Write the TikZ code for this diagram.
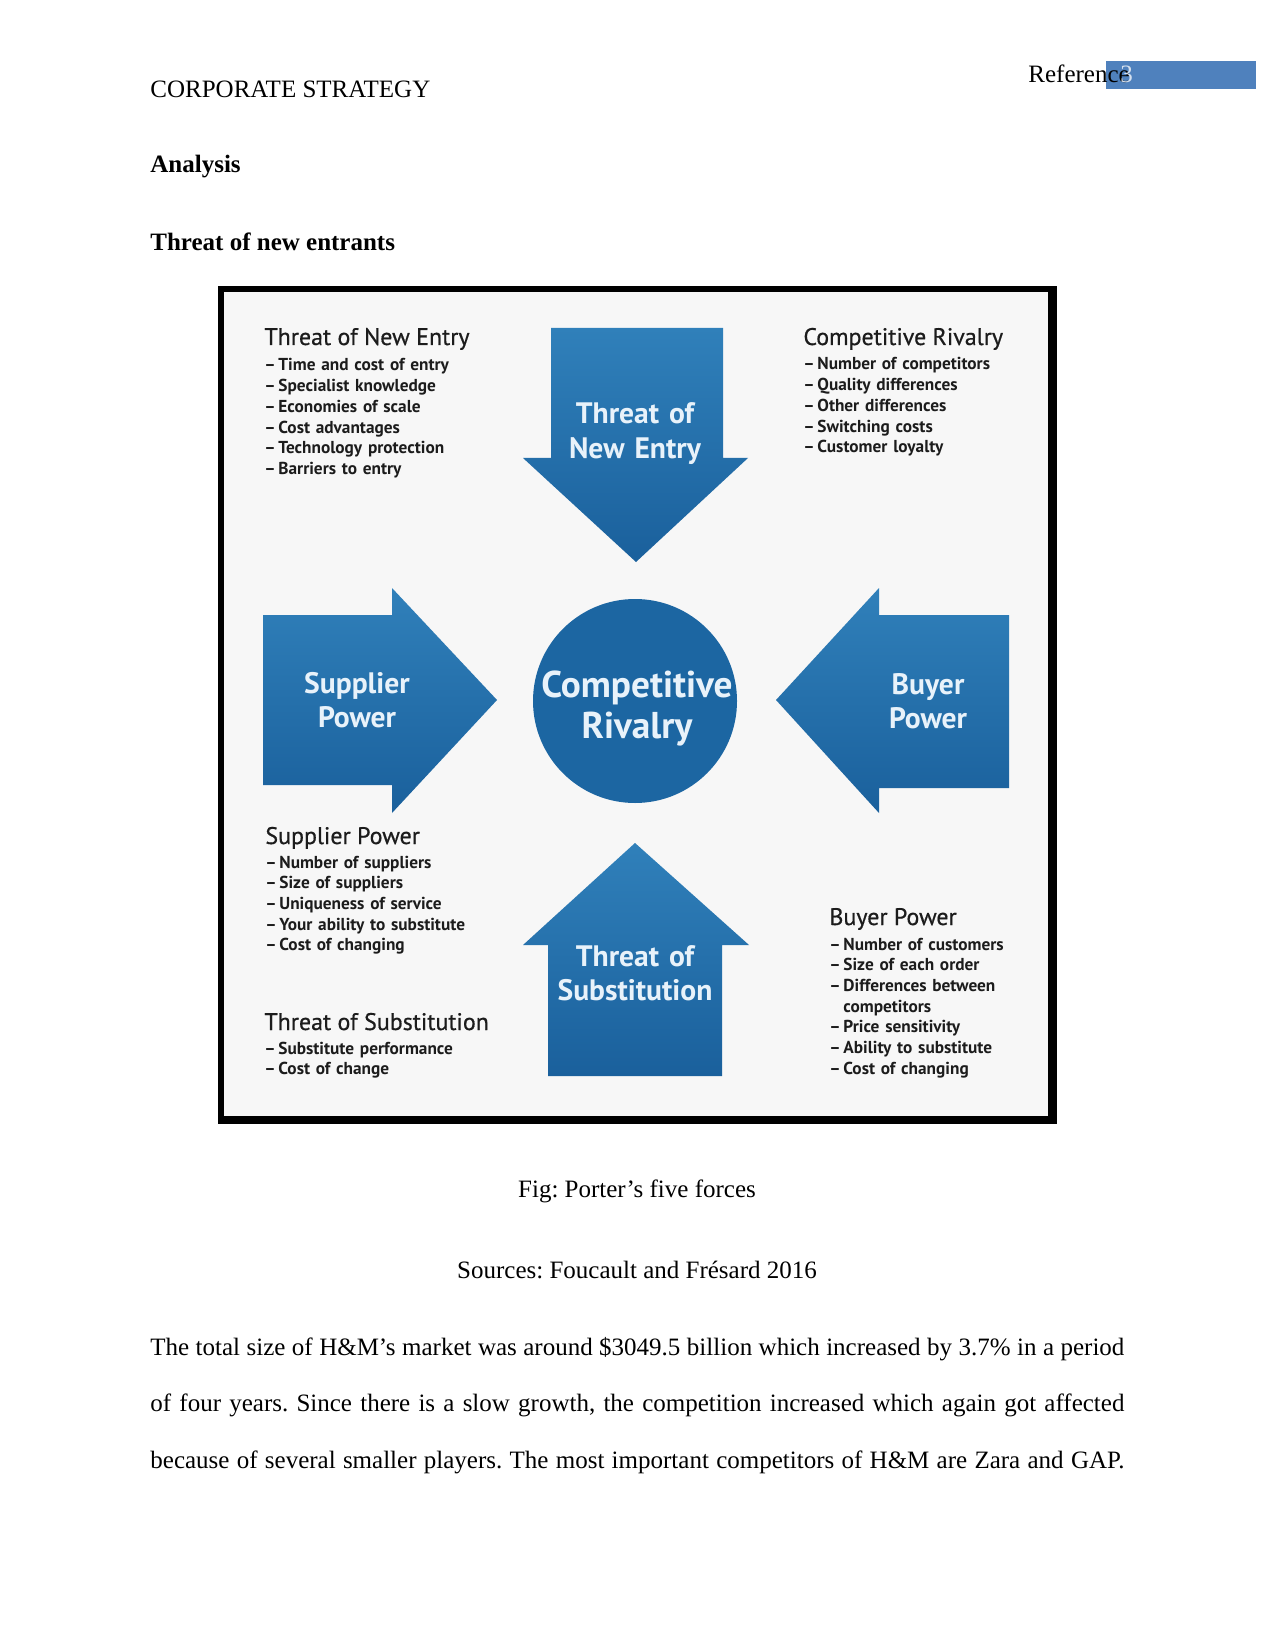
\documentclass[tikz,border=0pt]{standalone}
\usepackage{fontspec}
\setmainfont{Liberation Serif}
\newfontfamily\forcefont{PT Sans}
\newfontfamily\forcehead[FakeBold=0.6]{PT Sans}
\usepackage{xcolor}
\usetikzlibrary{positioning}
\frenchspacing

\definecolor{forcelight}{RGB}{48,128,186}
\definecolor{forcedark}{RGB}{26,96,156}
\definecolor{rivalblue}{RGB}{28,102,162}
\definecolor{forcetext}{RGB}{232,242,250}
\definecolor{listtext}{RGB}{28,28,28}
\definecolor{pagebox}{RGB}{79,129,189}
\newcommand{\dashitem}{\textendash\hspace{0.15em}}

\begin{document}
\begin{tikzpicture}[
  x=0.48pt, y=-0.48pt,
  body/.style={inner sep=0pt, anchor=base west, font=\fontsize{12}{14}\selectfont},
  bodyc/.style={body, anchor=base},
  force/.style={top color=forcelight, bottom color=forcedark},
  forcelbl/.style={inner sep=0pt, anchor=base, text width=140pt, align=center, text=forcetext,
    font=\forcefont\bfseries\fontsize{14.2}{16.5}\selectfont},
  head/.style={inner sep=0pt, anchor=base west, text=listtext, font=\forcehead\fontsize{11.5}{13}\selectfont},
  lst/.style={inner sep=0pt, anchor=base west, text width=130pt, align=left, text=listtext,
    font=\forcefont\bfseries\fontsize{8.3}{9.95}\selectfont}
]
\useasboundingbox (0,0) rectangle (1275,1650);

% ── Page header ──────────────────────────────────────────────
\fill[pagebox] (1106,61) rectangle (1256,89);
\node[body] (runhead) at (150,98) {CORPORATE STRATEGY};
\node[body] (refword) at (1028,83) {Reference};
\node[body, text=pagebox!25!white] (pageno) at (1120,83) {3};
\node[body, font=\bfseries\fontsize{12}{14}\selectfont] (analysis) at (150,173) {Analysis};
\node[body, font=\bfseries\fontsize{12}{14}\selectfont] (entrants) at (150,251) {Threat of new entrants};

% ── Figure frame ─────────────────────────────────────────────
\fill[black] (218,286) rectangle (1057,1124);
\fill[white!97!black] (224,292) rectangle (1048,1116);

% ── Five forces ──────────────────────────────────────────────
\shade[force] (551,328) -- (723,328) -- (723,458) -- (748,458) -- (636,562)
  -- (523,458) -- (551,458) -- cycle;
\shade[force] (548,1076) -- (722,1076) -- (722,945) -- (749,945) -- (635,843)
  -- (523,945) -- (548,945) -- cycle;
\shade[force] (263,615) -- (392,615) -- (392,588) -- (497,700) -- (392,813)
  -- (392,785) -- (263,785) -- cycle;
\shade[force] (1009,615) -- (879,615) -- (879,588) -- (776,700) -- (879,813)
  -- (879,788) -- (1009,788) -- cycle;
\fill[rivalblue] (635,701) circle[radius=102];

\node[forcelbl] (entry)  at (635,424) {Threat of\\New Entry};
\node[forcelbl] (subst)  at (635,966) {Threat of\\Substitution};
\node[forcelbl] (supp)   at (357,693) {Supplier\\Power};
\node[forcelbl] (buyer)  at (928,694) {Buyer\\Power};
\node[forcelbl, font=\forcefont\bfseries\fontsize{17.9}{19.7}\selectfont] (rival) at (637,697) {Competitive\\Rivalry};

% ── Factor lists ─────────────────────────────────────────────
\node[head] (entryhd) at (264,345) {Threat of New Entry};
\node[lst]  (entrylst) at (264,371) {\dashitem Time and cost of entry\\\dashitem Specialist knowledge\\\dashitem Economies of scale\\\dashitem Cost advantages\\\dashitem Technology protection\\\dashitem Barriers to entry};

\node[head] (rivalhd) at (803,345) {Competitive Rivalry};
\node[lst]  (rivallst) at (803,370) {\dashitem Number of competitors\\\dashitem Quality differences\\\dashitem Other differences\\\dashitem Switching costs\\\dashitem Customer loyalty};

\node[head] (supphd) at (265,844) {Supplier Power};
\node[lst]  (supplst) at (265,868) {\dashitem Number of suppliers\\\dashitem Size of suppliers\\\dashitem Uniqueness of service\\\dashitem Your ability to substitute\\\dashitem Cost of changing};

\node[head] (substhd) at (264,1030) {Threat of Substitution};
\node[lst]  (substlst) at (264,1054) {\dashitem Substitute performance\\\dashitem Cost of change};

\node[head] (buyerhd) at (829,925) {Buyer Power};
\node[lst]  (buyerlst) at (829,950) {\dashitem Number of customers\\\dashitem Size of each order\\\dashitem Differences between\\\phantom{\dashitem}competitors\\\dashitem Price sensitivity\\\dashitem Ability to substitute\\\dashitem Cost of changing};

% ── Caption and text ─────────────────────────────────────────
\node[bodyc] (caption) at (637,1197) {Fig: Porter’s five forces};
\node[bodyc] (sources) at (637,1278) {Sources: Foucault and Frésard 2016};
\node[body, text width=467.5pt, align=justify, font=\fontsize{12}{27.2}\selectfont] (para) at (150,1355)
  {\parfillskip=0pt The total size of H\&M’s market was around \$3049.5 billion which increased by 3.7\% in a period\linebreak
  of four years. Since there is a slow growth, the competition increased which again got affected\linebreak
  because of several smaller players. The most important competitors of H\&M are Zara and GAP.\par};
\end{tikzpicture}
\end{document}
